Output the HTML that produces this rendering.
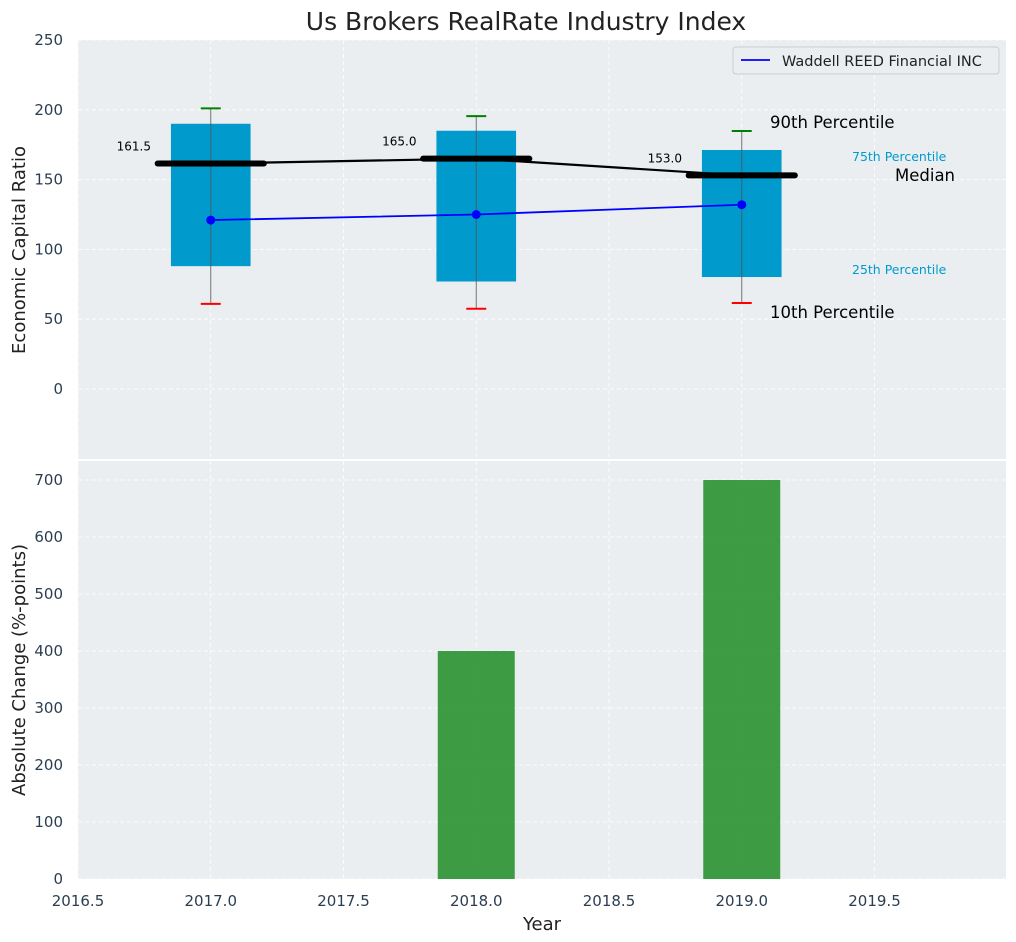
<!DOCTYPE html>
<html><head><meta charset="utf-8">
<style>
body{margin:0;background:#fff;font-family:"Liberation Sans","DejaVu Sans",sans-serif;}
svg{display:block}
text{font-family:"DejaVu Sans","Liberation Sans",sans-serif;}
</style></head>
<body>
<svg id="chart" width="1016" height="942" xmlns="http://www.w3.org/2000/svg"></svg>
<script>
const years=[2017,2018,2019];
const p10=[61,57.5,61.6];
const q1=[88,77,80.2];
const medians=[161.5,165.0,153.0];
const q3=[190,185,171.2];
const p90=[201,195.5,184.8];
const companyVals=[121,125,132];
const changeVals=[0,400,700];
const xTicks=[2016.5,2017.0,2017.5,2018.0,2018.5,2019.0,2019.5];
const yTopTicks=[0,50,100,150,200,250];
const yBotTicks=[0,100,200,300,400,500,600,700];

const NS="http://www.w3.org/2000/svg";
const svg=document.getElementById('chart');
const L=78,R=1006,T1=40,B1=459,T2=461,B2=879;
const X=v=>L+(v-2016.5)*265.5;
const Y1=v=>389-(v)*1.396;
const Y2=v=>B2-v*0.57;
function el(tag,attrs,name,txt){const e=document.createElementNS(NS,tag);for(const k in attrs)e.setAttribute(k,attrs[k]);


if(txt!==undefined)e.textContent=txt;svg.appendChild(e);return e;}
const AX="#2b3d50";
el('rect',{x:L,y:T1,width:R-L,height:B1-T1,fill:'#eaeef0'},'top-plot-area');
el('rect',{x:L,y:T2,width:R-L,height:B2-T2,fill:'#eaeef0'},'bottom-plot-area');
xTicks.forEach(t=>{
 el('line',{x1:X(t),x2:X(t),y1:T1,y2:B1,stroke:'#fff','stroke-dasharray':'4,3','stroke-width':0.8},'top-x-grid');
 el('line',{x1:X(t),x2:X(t),y1:T2,y2:B2,stroke:'#fff','stroke-dasharray':'4,3','stroke-width':0.8},'bottom-x-grid');
 el('text',{x:X(t),y:906,'text-anchor':'middle','font-size':15,fill:AX},'x-tick-label',t.toFixed(1));
});
yTopTicks.forEach(t=>{
 el('line',{x1:L,x2:R,y1:Y1(t),y2:Y1(t),stroke:'#fff','stroke-dasharray':'4,3','stroke-width':0.8},'top-y-grid');
 el('text',{x:63,y:Y1(t)+5,'text-anchor':'end','font-size':15,fill:AX},'top-y-tick-label',t);
});
yBotTicks.forEach(t=>{
 el('line',{x1:L,x2:R,y1:Y2(t),y2:Y2(t),stroke:'#fff','stroke-dasharray':'4,3','stroke-width':0.8},'bottom-y-grid');
 el('text',{x:63,y:Y2(t)+5,'text-anchor':'end','font-size':15,fill:AX},'bottom-y-tick-label',t);
});
years.forEach((yr,i)=>{
 el('rect',{x:X(yr-0.15),y:Y1(q3[i]),width:X(yr+0.15)-X(yr-0.15),height:Y1(q1[i])-Y1(q3[i]),fill:'#009ACD'},'box-'+yr);
 el('line',{x1:X(yr),x2:X(yr),y1:Y1(p90[i]),y2:Y1(p10[i]),stroke:'#555','stroke-width':1,opacity:0.8},'whisker-'+yr);
 el('line',{x1:X(yr)-10,x2:X(yr)+10,y1:Y1(p90[i]),y2:Y1(p90[i]),stroke:'green','stroke-width':2},'p90-cap-'+yr);
 el('line',{x1:X(yr)-10,x2:X(yr)+10,y1:Y1(p10[i]),y2:Y1(p10[i]),stroke:'red','stroke-width':2},'p10-cap-'+yr);
});
el('polyline',{points:years.map((y,i)=>X(y)+','+Y1(medians[i])).join(' '),fill:'none',stroke:'#000','stroke-width':2.2},'median-line');
years.forEach((yr,i)=>{
 el('line',{x1:X(yr-0.2),x2:X(yr+0.2),y1:Y1(medians[i]),y2:Y1(medians[i]),stroke:'#000','stroke-width':6,'stroke-linecap':'round'},'median-bar-'+yr);
 el('text',{x:X(yr-0.225),y:Y1(medians[i])-13,'text-anchor':'end','font-size':12,fill:'#000'},'median-value-label',medians[i].toFixed(1));
});
el('polyline',{points:years.map((y,i)=>X(y)+','+Y1(companyVals[i])).join(' '),fill:'none',stroke:'#0000ff','stroke-width':1.8},'company-line');
years.forEach((yr,i)=>el('circle',{cx:X(yr),cy:Y1(companyVals[i]),r:4.5,fill:'#0000ff'},'company-point-'+yr));
el('text',{x:770,y:128,'font-size':16.5,fill:'#000'},'p90-annotation','90th Percentile');
el('text',{x:852,y:161,'font-size':12.5,fill:'#009ACD'},'p75-annotation','75th Percentile');
el('text',{x:895,y:181,'font-size':16.5,fill:'#000'},'median-annotation','Median');
el('text',{x:852,y:274,'font-size':12.5,fill:'#009ACD'},'p25-annotation','25th Percentile');
el('text',{x:770,y:318,'font-size':16.5,fill:'#000'},'p10-annotation','10th Percentile');
el('rect',{x:733,y:47,width:266,height:27,fill:'#eaeef0',stroke:'#ccc',rx:3},'legend-box');
el('line',{x1:741,x2:770,y1:60,y2:60,stroke:'#0000ff','stroke-width':1.8},'legend-line');
el('text',{x:782,y:66,'font-size':14.5,fill:'#222'},'legend-entry','Waddell REED Financial INC');
years.forEach((yr,i)=>{
 if(changeVals[i]>0) el('rect',{x:X(yr-0.145),y:Y2(changeVals[i]),width:X(yr+0.145)-X(yr-0.145),height:B2-Y2(changeVals[i]),fill:'#2a9130',opacity:0.9},'change-bar-'+yr);
});
el('text',{x:526,y:30,'text-anchor':'middle','font-size':25,fill:'#222'},'chart-title','Us Brokers RealRate Industry Index');
el('text',{x:542,y:930,'text-anchor':'middle','font-size':18,fill:'#222'},'x-axis-title','Year');
el('text',{x:25,y:250,'text-anchor':'middle','font-size':18,fill:'#222',transform:'rotate(-90 25 250)'},'top-y-axis-title','Economic Capital Ratio');
el('text',{x:25,y:670,'text-anchor':'middle','font-size':18,fill:'#222',transform:'rotate(-90 25 670)'},'bottom-y-axis-title','Absolute Change (%-points)');
</script>
</body></html>
